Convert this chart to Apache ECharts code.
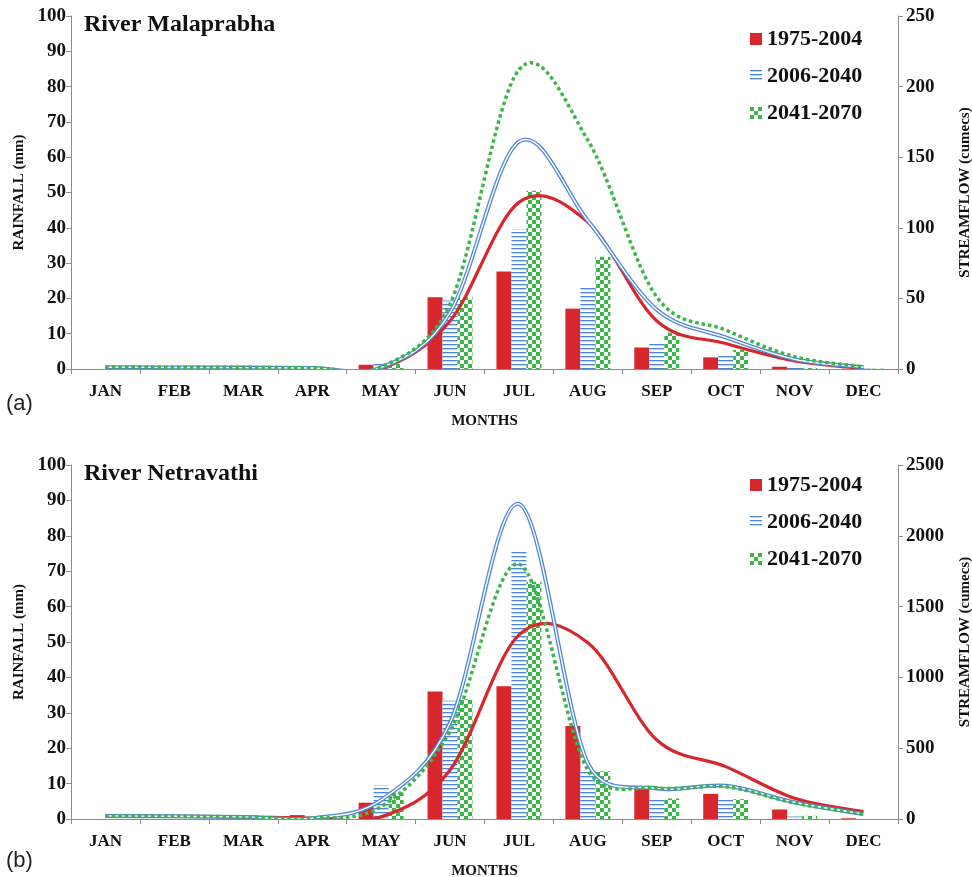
<!DOCTYPE html>
<html>
<head>
<meta charset="utf-8">
<script src="https://cdn.jsdelivr.net/npm/echarts@6/dist/echarts.min.js"></script>
<style>
  html, body { margin: 0; padding: 0; background: #fff; }
  #chart { width: 972px; height: 877px; }
</style>
</head>
<body>
<div id="chart"></div>
<script>
// monthly categories
const months = ['JAN', 'FEB', 'MAR', 'APR', 'MAY', 'JUN', 'JUL', 'AUG', 'SEP', 'OCT', 'NOV', 'DEC'];
const periods = ['1975-2004', '2006-2040', '2041-2070'];

// (a) River Malaprabha - rainfall (mm)
const rainMal1975 = [0, 0, 0, 0, 1.2, 20.3, 27.6, 17.1, 6.1, 3.3, 0.65, 0.1];
const rainMal2006 = [0, 0, 0, 0.2, 1.9, 19.4, 39.6, 23.1, 7.5, 4.0, 0.3, 0.1];
const rainMal2041 = [0, 0, 0, 0.4, 1.4, 20.5, 50.5, 31.8, 10.3, 5.4, 0.3, 0.1];
// (a) streamflow (cumecs)
const flowMal1975 = [1.0, 1.0, 0.9, 0.6, 0.3, 34, 118, 104, 34, 18, 5.7, 0.5];
const flowMal2006 = [1.2, 1.1, 1.0, 0.7, 1.0, 40, 161, 105, 42, 22.4, 6.9, 1.2];
const flowMal2041 = [1.4, 1.3, 1.2, 0.9, 1.5, 46, 212, 162, 51, 27.6, 8.7, 1.6];

// (b) River Netravathi - rainfall (mm)
const rainNet1975 = [0, 0, 0, 1.1, 4.6, 36, 37.5, 26.3, 8.7, 7.1, 2.7, 0.2];
const rainNet2006 = [0, 0, 0, 0, 9.6, 33.4, 76, 13.5, 5.8, 5.6, 0.7, 0];
const rainNet2041 = [0, 0, 0, 0, 7.5, 33.8, 67, 13.5, 5.8, 5.6, 0.9, 0];
// (b) streamflow (cumecs)
const flowNet1975 = [22, 19, 15, 6, 15, 346, 1300, 1245, 558, 370, 146, 52];
const flowNet2006 = [22, 19, 15, 6, 134, 680, 2225, 393, 216, 235, 118, 35];
const flowNet2041 = [22, 19, 15, 6, 87, 620, 1800, 346, 220, 228, 113, 35];

const SERIF = 'Liberation Serif';
const RED = '#d8262d';
const BLUE = '#4f86d6';
const GREEN = '#3cb54a';

function stripes() {
  const c = document.createElement('canvas');
  c.width = 4; c.height = 4;
  const g = c.getContext('2d');
  g.fillStyle = '#fff'; g.fillRect(0, 0, 4, 4);
  g.fillStyle = BLUE; g.fillRect(0, 0, 4, 1);
  g.fillStyle = 'rgba(79,134,214,0.35)'; g.fillRect(0, 1, 4, 1);
  return c;
}
function checker() {
  const c = document.createElement('canvas');
  c.width = 8; c.height = 8;
  const g = c.getContext('2d');
  g.fillStyle = '#fff'; g.fillRect(0, 0, 8, 8);
  g.fillStyle = GREEN; g.fillRect(0, 0, 4, 4); g.fillRect(4, 4, 4, 4);
  return c;
}
const barColors = [RED, { image: stripes(), repeat: 'repeat' }, { image: checker(), repeat: 'repeat' }];

// excel style smoothed line: bezier with tangent (next - prev) / 6,
// capped at half of the segment length
function smoothPath(p) {
  let d = 'M' + p[0][0] + ' ' + p[0][1];
  for (let i = 0; i < p.length - 1; i++) {
    const p0 = p[i - 1] || p[i], p1 = p[i], p2 = p[i + 1], p3 = p[i + 2] || p[i + 1];
    const seg = Math.hypot(p2[0] - p1[0], p2[1] - p1[1]);
    const v1 = [p2[0] - p0[0], p2[1] - p0[1]];
    const v2 = [p3[0] - p1[0], p3[1] - p1[1]];
    const l1 = Math.hypot(v1[0], v1[1]) || 1;
    const l2 = Math.hypot(v2[0], v2[1]) || 1;
    const k1 = Math.min(1 / 6, 0.5 * seg / l1);
    const k2 = Math.min(1 / 6, 0.5 * seg / l2);
    const c1 = [p1[0] + v1[0] * k1, p1[1] + v1[1] * k1];
    const c2 = [p2[0] - v2[0] * k2, p2[1] - v2[1] * k2];
    d += ' C' + c1[0] + ' ' + c1[1] + ' ' + c2[0] + ' ' + c2[1] + ' ' + p2[0] + ' ' + p2[1];
  }
  return d;
}

function flowCurve(name, grid, values, kind) {
  return {
    type: 'custom',
    name: name,
    xAxisIndex: grid,
    yAxisIndex: grid * 2 + 1,
    data: [[0, 0]],
    silent: true,
    clip: true,
    z: 5,
    renderItem: function (params, api) {
      const pts = values.map(function (v, i) { return api.coord([i, v]); });
      const d = smoothPath(pts);
      if (kind === 'double') {
        return {
          type: 'group',
          children: [
            { type: 'path', shape: { pathData: d }, style: { fill: 'none', stroke: BLUE, lineWidth: 4 } },
            { type: 'path', shape: { pathData: d }, style: { fill: 'none', stroke: '#fff', lineWidth: 1.4 } }
          ]
        };
      }
      if (kind === 'dotted') {
        return { type: 'path', shape: { pathData: d }, style: { fill: 'none', stroke: GREEN, lineWidth: 3.5, lineDash: [3.5, 3] } };
      }
      return { type: 'path', shape: { pathData: d }, style: { fill: 'none', stroke: RED, lineWidth: 3.2 } };
    }
  };
}

function bars(grid, rains) {
  return rains.map(function (vals, k) {
    return {
      name: periods[k],
      type: 'bar',
      xAxisIndex: grid,
      yAxisIndex: grid * 2,
      data: vals,
      barWidth: 15,
      barGap: '0%',
      itemStyle: { color: barColors[k] },
      z: 2
    };
  });
}

const axisLine = { show: true, lineStyle: { color: '#8c8c8c', width: 1 } };
const tick = { show: true, length: 5, lineStyle: { color: '#8c8c8c' } };
const lblStyle = { fontFamily: SERIF, fontWeight: 'bold', fontSize: 19, color: '#111' };
const nameStyle = { fontFamily: SERIF, fontWeight: 'bold', fontSize: 15, color: '#111' };

function xAx(grid) {
  return {
    gridIndex: grid, type: 'category', data: months,
    axisLine: axisLine, axisTick: tick,
    axisLabel: Object.assign({}, lblStyle, { margin: 14, fontSize: 17 }),
    name: 'MONTHS', nameLocation: 'middle', nameGap: 45, nameTextStyle: nameStyle,
    splitLine: { show: false }
  };
}
function yLeft(grid) {
  return {
    gridIndex: grid, type: 'value', position: 'left', min: 0, max: 100, interval: 10,
    axisLine: axisLine, axisTick: tick, splitLine: { show: false },
    axisLabel: Object.assign({ margin: 5 }, lblStyle),
    name: 'RAINFALL (mm)', nameLocation: 'middle', nameRotate: 90, nameGap: 44, nameTextStyle: nameStyle
  };
}
function yRight(grid, max, interval) {
  return {
    gridIndex: grid, type: 'value', position: 'right', min: 0, max: max, interval: interval,
    axisLine: axisLine, axisTick: tick, splitLine: { show: false },
    axisLabel: Object.assign({ margin: 8, formatter: function (v) { return String(v); } }, lblStyle),
    name: 'STREAMFLOW (cumecs)', nameLocation: 'middle', nameRotate: 90, nameGap: 60, nameTextStyle: nameStyle
  };
}
function legendAt(top) {
  return {
    data: periods.map(function (n) { return { name: n, icon: 'rect' }; }),
    orient: 'vertical', left: 745, top: top,
    itemWidth: 12, itemHeight: 12, itemGap: 15, selectedMode: false,
    textStyle: { fontFamily: SERIF, fontWeight: 'bold', fontSize: 22, color: '#111' }
  };
}

const chart = echarts.init(document.getElementById('chart'), null, { renderer: 'canvas' });
chart.setOption({
  animation: false,
  backgroundColor: '#fff',
  title: [
    { text: 'River Malaprabha', left: 84, top: 13, padding: 0, textStyle: { fontFamily: SERIF, fontWeight: 'bold', fontSize: 24, color: '#111' } },
    { text: 'River Netravathi', left: 84, top: 462, padding: 0, textStyle: { fontFamily: SERIF, fontWeight: 'bold', fontSize: 24, color: '#111' } },
    { text: '(a)', left: 6, top: 393, padding: 0, textStyle: { fontFamily: 'Liberation Sans', fontWeight: 'normal', fontSize: 22, color: '#222' } },
    { text: '(b)', left: 6, top: 850, padding: 0, textStyle: { fontFamily: 'Liberation Sans', fontWeight: 'normal', fontSize: 22, color: '#222' } }
  ],
  legend: [legendAt(23), legendAt(469)],
  grid: [
    { left: 71, right: 74, top: 16, height: 353, outerBoundsMode: 'none' },
    { left: 71, right: 74, top: 465, height: 354, outerBoundsMode: 'none' }
  ],
  xAxis: [xAx(0), xAx(1)],
  yAxis: [yLeft(0), yRight(0, 250, 50), yLeft(1), yRight(1, 2500, 500)],
  series: [].concat(
    bars(0, [rainMal1975, rainMal2006, rainMal2041]),
    bars(1, [rainNet1975, rainNet2006, rainNet2041]),
    [
      flowCurve('Q 1975-2004 a', 0, flowMal1975, 'solid'),
      flowCurve('Q 2006-2040 a', 0, flowMal2006, 'double'),
      flowCurve('Q 2041-2070 a', 0, flowMal2041, 'dotted'),
      flowCurve('Q 1975-2004 b', 1, flowNet1975, 'solid'),
      flowCurve('Q 2006-2040 b', 1, flowNet2006, 'double'),
      flowCurve('Q 2041-2070 b', 1, flowNet2041, 'dotted')
    ]
  )
});
</script>
</body>
</html>
